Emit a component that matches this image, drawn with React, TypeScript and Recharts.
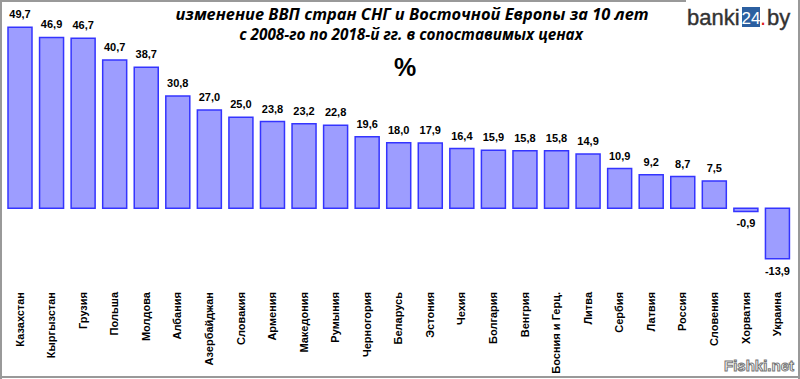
import { BarChart, Bar, XAxis, YAxis, LabelList } from "recharts";

const countries = [
  "Казахстан", "Кыргызстан", "Грузия", "Польша", "Молдова", "Албания",
  "Азербайджан", "Словакия", "Армения", "Македония", "Румыния", "Черногория",
  "Беларусь", "Эстония", "Чехия", "Болгария", "Венгрия", "Босния  и Герц.",
  "Литва", "Сербия", "Латвия", "Россия", "Словения", "Хорватия", "Украина"
];
const growth = [
  49.7, 46.9, 46.7, 40.7, 38.7, 30.8, 27.0, 25.0, 23.8, 23.2, 22.8, 19.6,
  18.0, 17.9, 16.4, 15.9, 15.8, 15.8, 14.9, 10.9, 9.2, 8.7, 7.5, -0.9, -13.9
];

const data = countries.map((name, i) => ({ name, value: growth[i] }));

const fmt = (v: number) => v.toFixed(1).replace(".", ",");

const ValueLabel = (props: any) => {
  const { x, y, width, height, value } = props;
  const neg = value < 0;
  const cx = x + width / 2;
  const top = Math.min(y, y + height);
  const bottom = Math.max(y, y + height);
  return (
    <text
      x={cx}
      y={neg ? bottom + 16 : top - 9}
      textAnchor="middle"
      fontFamily="Liberation Sans"
      fontWeight="bold"
      fontSize={11}
      fill="#000"
    >
      {fmt(value)}
    </text>
  );
};

const CountryTick = (props: any) => {
  const { x, payload } = props;
  return (
    <g transform={`translate(${x},292)`}>
      <text
        transform="rotate(-90)"
        textAnchor="end"
        dy="0.35em"
        fontFamily="Liberation Sans"
        fontWeight="bold"
        fontSize={11}
        fill="#000"
      >
        {payload.value}
      </text>
    </g>
  );
};

export default function App() {
  return (
    <div style={{ position: "absolute", left: 0, top: 0, width: 800, height: 379, background: "#fff" }}>
      <BarChart
        width={800}
        height={379}
        data={data}
        margin={{ top: 8, right: 7, left: 4, bottom: 0 }}
        barCategoryGap={7}
      >
        <XAxis
          dataKey="name"
          height={98}
          interval={0}
          axisLine={false}
          tickLine={false}
          tick={<CountryTick />}
        />
        <YAxis hide domain={[-20, 55]} />
        <Bar
          dataKey="value"
          fill="#9d9dff"
          stroke="#3434ff"
          strokeWidth={1.5}
          barSize={24}
          isAnimationActive={false}
        >
          <LabelList dataKey="value" content={<ValueLabel />} />
        </Bar>
      </BarChart>
      <svg
        width={800}
        height={379}
        style={{ position: "absolute", left: 0, top: 0, pointerEvents: "none" }}
      >
        <line x1={0} y1={1} x2={686} y2={1} stroke="#999" strokeWidth={2} />
        <line x1={1} y1={0} x2={1} y2={379} stroke="#999" strokeWidth={2} />
        <line x1={0} y1={377} x2={800} y2={377} stroke="#999" strokeWidth={2} />
        <line x1={799} y1={0} x2={799} y2={379} stroke="#999" strokeWidth={2} />
        <text
          x={412}
          y={20}
          textAnchor="middle"
          fontFamily="Open Sans"
          fontWeight="bold"
          fontStyle="italic"
          fontSize={16.4}
          fill="#000"
        >
          изменение ВВП стран СНГ и Восточной Европы за 10 лет
        </text>
        <text
          x={411}
          y={40}
          textAnchor="middle"
          fontFamily="Open Sans"
          fontWeight="bold"
          fontStyle="italic"
          fontSize={15.3}
          fill="#000"
        >
          с 2008-го по 2018-й гг. в сопоставимых  ценах
        </text>
        <text
          x={405}
          y={76}
          textAnchor="middle"
          fontFamily="Liberation Sans"
          fontWeight="bold"
          fontSize={25}
          fill="#000"
        >
          %
        </text>
        <text x={687} y={25} fontFamily="Liberation Sans" fontSize={22} fill="#333" stroke="#333" strokeWidth={0.4}>
          banki
        </text>
        <rect x={742} y={7} width={18} height={20} fill="#2b5fa0" />
        <text x={751} y={24} textAnchor="middle" fontFamily="Liberation Sans" fontSize={17} fill="#fff">
          24
        </text>
        <text x={760} y={25} fontFamily="Liberation Sans" fontSize={22} fill="#e02020">
          .
        </text>
        <text x={767} y={25} fontFamily="Liberation Sans" fontSize={22} fill="#333" stroke="#333" strokeWidth={0.4}>
          by
        </text>
        <text
          x={794}
          y={371}
          textAnchor="end"
          fontFamily="Liberation Sans"
          fontWeight="bold"
          fontSize={15}
          fill="#fff"
          stroke="#777"
          strokeWidth={1}
        >
          Fishki.net
        </text>
      </svg>
    </div>
  );
}
